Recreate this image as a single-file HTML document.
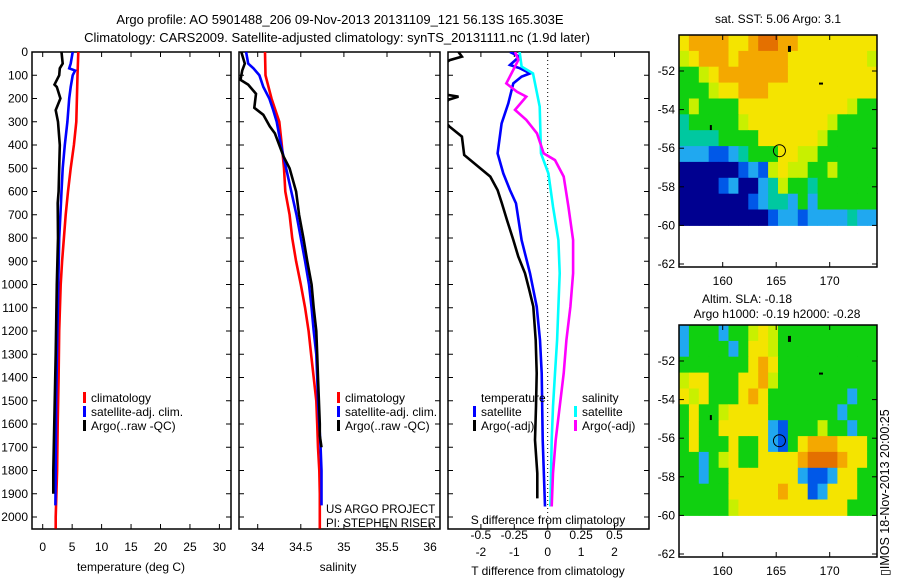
<!DOCTYPE html>
<html><head><meta charset="utf-8"><style>
body{margin:0;background:#fff;width:900px;height:580px;overflow:hidden;font-family:"Liberation Sans",sans-serif}
svg text{font-family:"Liberation Sans",sans-serif;font-size:12px;fill:#000}
</style></head><body>
<svg id="chart" width="900" height="580" xmlns="http://www.w3.org/2000/svg">
<text x="340" y="24" text-anchor="middle" style="font-size:13px">Argo profile: AO 5901488_206 09-Nov-2013 20131109_121 56.13S 165.303E</text>
<text x="337" y="42" text-anchor="middle" style="font-size:13px">Climatology: CARS2009. Satellite-adjusted climatology: synTS_20131111.nc (1.9d later)</text>
<g id="plots"></g>
<text transform="translate(889,576) rotate(-90)" style="font-size:12.5px">▯IMOS 18-Nov-2013 20:00:25</text>
</svg>
<script>
// ---- data ----
const tClimDepth=[0,100,300,400,500,600,700,800,900,1000,1200,1400,1600,1800,2000,2050];
const tClim=[6.05,5.9,5.7,5.3,4.75,4.3,3.9,3.6,3.3,3.05,2.8,2.7,2.55,2.45,2.2,2.2];
const tSatDepth=[0,50,70,80,100,150,200,300,400,500,600,700,800,1000,1200,1500,1800,1950];
const tSat=[5.1,4.75,4.5,5.5,5.1,4.75,4.5,4.2,3.75,3.4,3.2,3.0,2.8,2.65,2.5,2.3,2.2,2.15];
const tArgoDepth=[0,50,70,100,140,150,200,250,300,400,500,600,650,800,1000,1300,1550,1800,1900];
const tArgo=[3.2,3.4,2.9,2.8,2.0,2.4,3.0,2.2,2.6,2.9,2.8,2.7,2.55,2.6,2.4,2.2,2.0,1.8,1.8];
const sClimDepth=[0,100,200,300,400,500,600,700,800,900,1000,1100,1200,1300,1400,1500,1600,1700,1800,1900,2050];
const sClim=[34.085,34.09,34.16,34.25,34.28,34.305,34.32,34.37,34.40,34.445,34.50,34.55,34.59,34.62,34.65,34.68,34.69,34.70,34.715,34.72,34.72];
const sSatDepth=[0,50,70,100,150,200,250,300,400,500,600,700,800,900,1000,1100,1200,1300,1400,1500,1600,1700,1800,1950];
const sSat=[33.865,33.89,33.95,34.02,34.065,34.135,34.18,34.22,34.27,34.33,34.39,34.45,34.50,34.55,34.595,34.625,34.65,34.68,34.69,34.70,34.715,34.73,34.74,34.74];
const sArgoDepth=[0,50,80,120,140,180,240,270,320,350,450,500,600,700,800,900,1000,1100,1200,1300,1400,1600,1650,1700];
const sArgo=[33.81,33.85,33.82,33.80,33.89,33.98,33.96,34.065,34.14,34.20,34.30,34.37,34.445,34.48,34.53,34.575,34.625,34.65,34.68,34.69,34.70,34.72,34.72,34.74];
const dTArgoDepth=[0,20,35,60,180,192,205,250,280,321,364,443,536,594,651,723,808,880,952,1024,1095,1239,1382,1525,1669,1812,1920];
const dTArgo=[-2.67,-2.57,-2.93,-3.2,-3.2,-2.67,-2.97,-3.2,-3.2,-2.94,-2.57,-2.5,-1.72,-1.5,-1.37,-1.22,-1.03,-0.88,-0.68,-0.55,-0.43,-0.36,-0.33,-0.35,-0.38,-0.31,-0.31];
const dTSatDepth=[0,20,56,70,92,106,135,221,307,436,522,594,651,809,952,1095,1239,1382,1669,1955];
const dTSat=[-1.13,-0.85,-1.13,-0.83,-0.53,-0.78,-1.03,-1.18,-1.38,-1.5,-1.33,-1.13,-0.95,-0.78,-0.53,-0.33,-0.23,-0.18,-0.15,-0.08];
const dSSatDepth=[0,63,92,235,436,522,665,809,952,1095,1239,1382,1525,1669,1955];
const dSSat=[-0.21,-0.195,-0.11,-0.06,-0.05,0.005,0.04,0.08,0.09,0.08,0.07,0.055,0.04,0.03,0.02];
const dSArgoDepth=[0,34,63,135,171,192,249,292,350,436,465,536,665,809,952,1095,1239,1382,1525,1669,1812,1955];
const dSArgo=[-0.245,-0.22,-0.245,-0.31,-0.23,-0.16,-0.245,-0.16,-0.08,-0.03,0.055,0.12,0.155,0.19,0.19,0.17,0.14,0.12,0.09,0.06,0.04,0.03];
const depthTicks=[0,100,200,300,400,500,600,700,800,900,1000,1100,1200,1300,1400,1500,1600,1700,1800,1900,2000];
const tempTicks=[0,5,10,15,20,25,30];
const salTicks=[34,34.5,35,35.5,36];
const dTTicks=[-2,-1,0,1,2];
const dSTicks=[-0.5,-0.25,0,0.25,0.5];
const latTicks=[-52,-54,-56,-58,-60,-62];
const lonTicks=[160,165,170];
const sstGrid=[
"yooooyyoOOooyyyyyyyy","YyoooyoooooyyyyyyyyY","ggYyoooooooyyyyyyyyy","gggYyyoooyyyyyyyyyyy",
"gYggggyyyyyyyyyyyYgg","tgggggYyyyyyyyyYgggg","ttttggggyyyyyyYggggg","cccbbctgggyyYYgggggg",
"nnnnnnbcbYyYYggYgggg","nnnnbcnnctYggtgggggg","nnnnnnnbcttcgcgggggg","nnnnnnnnnbccbcccctcc"];
const slaGrid=[
"cgggcggYyYgggggggggg","cggggcgyyYgggggggggg","gggggggyoygggggggggg","YyygggyyoYgggggggggg",
"yYygggyoyggggggggcgg","gyggYyyyygggggggcggg","gyggyyyyycbgggYggcgg","gygggyggycbgyoooyyyg",
"ggcgYyggyyyyoOOOoyyg","ggcggyyyyyyycbbcyygg","gggggyyyyyoyybcyyygg","gggggYyyyyyyyyyyyggg"];
const argoLon=165.303, argoLat=-56.13;

const NS="http://www.w3.org/2000/svg";
const G=document.getElementById('plots');
function el(tag,attrs,parent){const e=document.createElementNS(NS,tag);for(const k in attrs)e.setAttribute(k,attrs[k]);(parent||G).appendChild(e);return e;}
function txt(x,y,s,anchor,parent){const t=el('text',{x:x,y:y,'text-anchor':anchor||'start'},parent);t.textContent=s;return t;}
const Y0=52,Y1=529;
const yD=d=>Y0+d*(465/2000);

function panel(name,x0,x1){
  const r=el('rect',{x:x0,y:Y0,width:x1-x0,height:Y1-Y0,fill:'none',stroke:'#000','stroke-width':1.5});
  
  
  depthTicks.forEach(d=>{const y=yD(d);
    el('line',{x1:x0,x2:x0+5,y1:y,y2:y,stroke:'#000'});el('line',{x1:x1-5,x2:x1,y1:y,y2:y,stroke:'#000'});});
}
function series(name,xs,ds,xf,color,clipId){
  const p=el('polyline',{points:xs.map((v,i)=>xf(v).toFixed(1)+','+yD(ds[i]).toFixed(1)).join(' '),fill:'none',stroke:color,'stroke-width':2.6,'stroke-linejoin':'miter','clip-path':'url(#'+clipId+')'});
  
  
}
function clip(id,x0,x1){const c=el('clipPath',{id:id});el('rect',{x:x0,y:Y0,width:x1-x0,height:Y1-Y0},c);}
function legendEntry(name,x,y,color,label){
  const g=el('g',{});
  
  
  el('rect',{x:x,y:y-10,width:3,height:11,fill:color},g);
  txt(x+8,y,label,'start',g);
}

// Panel 1 temperature
const xT=v=>42.7+v*5.89;
clip('c1',32,231);panel('temperature-panel',32,231);
depthTicks.forEach(d=>{const t=txt(28,yD(d)+4,String(d),'end');});
tempTicks.forEach(v=>{el('line',{x1:xT(v),x2:xT(v),y1:Y1,y2:Y1-5,stroke:'#000'});el('line',{x1:xT(v),x2:xT(v),y1:Y0,y2:Y0+5,stroke:'#000'});txt(xT(v),551,String(v),'middle');});
series('temp-climatology-line',tClim,tClimDepth,xT,'#ff0000','c1');
series('temp-satellite-line',tSat,tSatDepth,xT,'#0000ff','c1');
series('temp-argo-line',tArgo,tArgoDepth,xT,'#000','c1');
txt(131,571,'temperature (deg C)','middle');
legendEntry('legend-climatology',83,402,'#ff0000','climatology');
legendEntry('legend-satellite-adj',83,416,'#0000ff','satellite-adj. clim.');
legendEntry('legend-argo',83,430,'#000','Argo(..raw -QC)');

// Panel 2 salinity
const xS=v=>257.7+(v-34)*86.2;
clip('c2',239,440);panel('salinity-panel',239,440);
salTicks.forEach(v=>{el('line',{x1:xS(v),x2:xS(v),y1:Y1,y2:Y1-5,stroke:'#000'});el('line',{x1:xS(v),x2:xS(v),y1:Y0,y2:Y0+5,stroke:'#000'});txt(xS(v),551,String(v),'middle');});
series('sal-climatology-line',sClim,sClimDepth,xS,'#ff0000','c2');
series('sal-satellite-line',sSat,sSatDepth,xS,'#0000ff','c2');
series('sal-argo-line',sArgo,sArgoDepth,xS,'#000','c2');
txt(338,571,'salinity','middle');
legendEntry('legend-climatology-2',337,402,'#ff0000','climatology');
legendEntry('legend-satellite-adj-2',337,416,'#0000ff','satellite-adj. clim.');
legendEntry('legend-argo-2',337,430,'#000','Argo(..raw -QC)');
const c1=txt(326,513,'US ARGO PROJECT');c1.setAttribute('style','font-size:11.5px');
const c2=txt(326,527,'PI: STEPHEN RISER');c2.setAttribute('style','font-size:11.5px');

// Panel 3 differences
const xdT=v=>547.7+v*33.4;
const xdS=v=>547.7+v*4*33.4;
clip('c3',448,649);panel('difference-panel',448,649);
el('line',{x1:547.7,x2:547.7,y1:Y0,y2:Y1,stroke:'#000','stroke-dasharray':'1,3'});
dTTicks.forEach(v=>{el('line',{x1:xdT(v),x2:xdT(v),y1:Y1,y2:Y1-5,stroke:'#000'});el('line',{x1:xdT(v),x2:xdT(v),y1:Y0,y2:Y0+5,stroke:'#000'});txt(xdT(v),556,String(v),'middle');});
dSTicks.forEach(v=>{txt(xdS(v),539,String(v),'middle');});
series('dT-argo-line',dTArgo,dTArgoDepth,xdT,'#000','c3');
series('dT-satellite-line',dTSat,dTSatDepth,xdT,'#0000ff','c3');
series('dS-satellite-line',dSSat,dSSatDepth,xdS,'#00ffff','c3');
series('dS-argo-line',dSArgo,dSArgoDepth,xdS,'#ff00ff','c3');
txt(548,524,'S difference from climatology','middle');
txt(548,575,'T difference from climatology','middle');
txt(481,402,'temperature');txt(582,402,'salinity');
legendEntry('legend-t-satellite',473,416,'#0000ff','satellite');
legendEntry('legend-t-argo',473,430,'#000','Argo(-adj)');
legendEntry('legend-s-satellite',574,416,'#00ffff','satellite');
legendEntry('legend-s-argo',574,430,'#ff00ff','Argo(-adj)');

// Maps
const colors={o:'#f4a800',O:'#e47000',y:'#f4e400',Y:'#c8f000',g:'#10d010',t:'#00c8a0',c:'#20a8f0',b:'#0058e8',n:'#000090'};
function map(name,top,grid){
  const mx0=679,mx1=877,my1=top+232;
  const lat2y=l=>top+36+(-l-52)*19.3;
  const lon2x=l=>722.7+(l-160)*10.7;
  const g=el('g',{});
  
  
  const rows=grid.length, cols=grid[0].length;
  const xA=mx0,xB=mx1,yA=top,yB=lat2y(-60);
  grid.forEach((row,r)=>{for(let c=0;c<cols;c++){
    const x=xA+(xB-xA)*c/cols, x2=xA+(xB-xA)*(c+1)/cols;
    const y=yA+(yB-yA)*r/rows, y2=yA+(yB-yA)*(r+1)/rows;
    el('rect',{x:x.toFixed(1),y:y.toFixed(1),width:(x2-x+0.5).toFixed(1),height:(y2-y+0.5).toFixed(1),fill:colors[grid[r][c]]},g);
  }});
  el('rect',{x:mx0,y:top,width:mx1-mx0,height:my1-top,fill:'none',stroke:'#000','stroke-width':1.5},g);
  latTicks.forEach(l=>{const y=lat2y(l);el('line',{x1:mx0,x2:mx0+5,y1:y,y2:y,stroke:'#000'},g);el('line',{x1:mx1-5,x2:mx1,y1:y,y2:y,stroke:'#000'},g);txt(675,y+4,String(l),'end',g);});
  lonTicks.forEach(l=>{const x=lon2x(l);el('line',{x1:x,x2:x,y1:my1,y2:my1-5,stroke:'#000'},g);el('line',{x1:x,x2:x,y1:top,y2:top+5,stroke:'#000'},g);txt(x,my1+18,String(l),'middle',g);});
  const m=el('circle',{cx:lon2x(argoLon),cy:lat2y(argoLat),r:6,fill:'none',stroke:'#000'},g);
  
  
  el('rect',{x:lon2x(166.1),y:lat2y(-50.7),width:3,height:6,fill:'#000'},g);
  el('rect',{x:lon2x(169),y:lat2y(-52.6),width:4,height:2,fill:'#000'},g);
  el('rect',{x:lon2x(158.8),y:lat2y(-54.8),width:2,height:5,fill:'#000'},g);
}
map('sst-map',35,sstGrid);
map('sla-map',325,slaGrid);
txt(778,23,'sat. SST: 5.06 Argo: 3.1','middle');
txt(747,303,'Altim. SLA: -0.18','middle');
txt(777,318,'Argo h1000: -0.19 h2000: -0.28','middle');
</script>
</body></html>
